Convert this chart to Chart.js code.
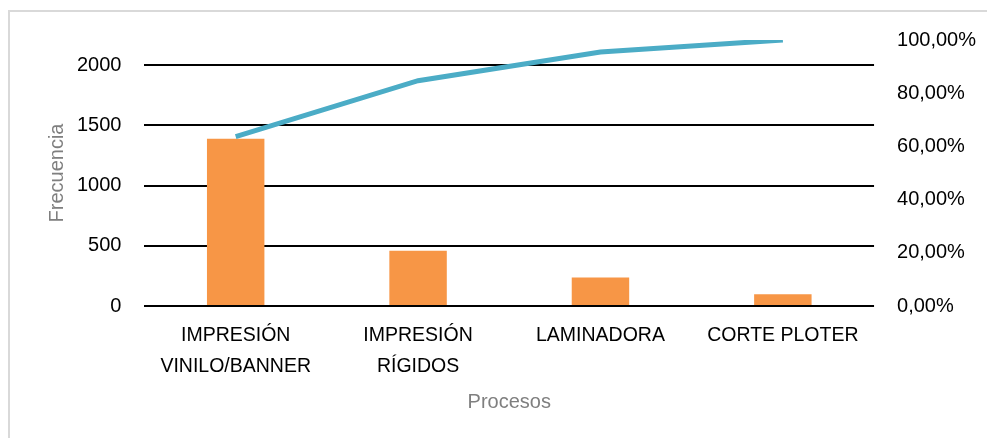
<!DOCTYPE html>
<html>
<head>
<meta charset="utf-8">
<script src="https://cdn.jsdelivr.net/npm/chart.js@4.4.1/dist/chart.umd.min.js"></script>
<style>
  html, body { margin: 0; padding: 0; background: #fff; }
  #marco {
    position: absolute; left: 8px; top: 10px; width: 979px; height: 428px;
    border-top: 2px solid #d9d9d9; border-left: 2px solid #d9d9d9;
  }
  #lienzo { position: absolute; left: 0; top: 0; width: 987px; height: 438px; }
</style>
</head>
<body>
<div id="marco"></div>
<div id="lienzo"><canvas id="pareto" width="987" height="438"></canvas></div>
<script>
// procesos y frecuencias (diagrama de Pareto)
let procesos = [["IMPRESIÓN", "VINILO/BANNER"], ["IMPRESIÓN", "RÍGIDOS"], "LAMINADORA", "CORTE PLOTER"];
let frecuencia = [1389, 458, 236, 97];
let acumulado = [0.637, 0.847, 0.955, 1.0]; // porcentaje acumulado
let ticksFrecuencia = [0, 500, 1000, 1500, 2000];
let ticksPorcentaje = [0, 0.2, 0.4, 0.6, 0.8, 1.0];

let fuenteNum = { family: "'Liberation Sans', Arial, sans-serif", size: 20 };
let fuenteCat = { family: "'Liberation Sans', Arial, sans-serif", size: 19.5, lineHeight: 1.59 };
let fuenteTitulo = { family: "'Liberation Sans', Arial, sans-serif", size: 20 };

function formatoPorcentaje(v) {
    return (v * 100).toFixed(2).replace('.', ',') + '%';
}

// Chart.js reserva el padding de las etiquetas dos veces en los ejes verticales
function quitarPaddingExtra(scale) {
    scale.width -= scale.options.ticks.padding;
}

let ctx = document.getElementById('pareto').getContext('2d');
let chart = new Chart(ctx, {
    type: 'bar',
    data: {
        labels: procesos,
        datasets: [
            {
                type: 'line',
                label: 'Acumulado',
                data: acumulado,
                yAxisID: 'y2',
                borderColor: '#4bacc6',
                borderWidth: 5,
                pointRadius: 0,
                tension: 0,
                fill: false,
                order: 0
            },
            {
                label: 'Frecuencia',
                data: frecuencia,
                yAxisID: 'y',
                backgroundColor: '#f79646',
                barPercentage: 0.315,
                categoryPercentage: 1.0,
                order: 1
            }
        ]
    },
    options: {
        responsive: false,
        animation: false,
        layout: { padding: { left: 41, right: 11, top: 40, bottom: 20 } },
        plugins: { legend: { display: false }, tooltip: { enabled: false } },
        scales: {
            x: {
                grid: { display: false, drawTicks: false },
                border: { display: false },
                ticks: { color: '#000', font: fuenteCat, padding: 14, maxRotation: 0, autoSkip: false },
                title: { display: true, text: 'Procesos', color: '#7f7f7f', font: fuenteTitulo, padding: { top: -6, bottom: 4 } },
                afterFit: scale => { scale.paddingLeft = 0; scale.paddingRight = 0; }
            },
            y: {
                position: 'left',
                min: 0,
                max: 2208,
                afterBuildTicks: axis => { axis.ticks = ticksFrecuencia.map(v => ({ value: v })); },
                afterFit: quitarPaddingExtra,
                grid: { color: '#000', lineWidth: 2, drawTicks: false },
                border: { display: false },
                ticks: { color: '#000', font: fuenteNum, padding: 23, callback: v => String(v) },
                title: { display: true, text: 'Frecuencia', color: '#7f7f7f', font: fuenteTitulo, padding: { top: 4, bottom: 8 } }
            },
            y2: {
                position: 'right',
                min: 0,
                max: 1.0,
                afterBuildTicks: axis => { axis.ticks = ticksPorcentaje.map(v => ({ value: v })); },
                afterFit: quitarPaddingExtra,
                grid: { display: false, drawTicks: false },
                border: { display: false },
                ticks: { color: '#000', font: fuenteNum, padding: 23, callback: v => formatoPorcentaje(v) }
            }
        }
    }
});
</script>
</body>
</html>
